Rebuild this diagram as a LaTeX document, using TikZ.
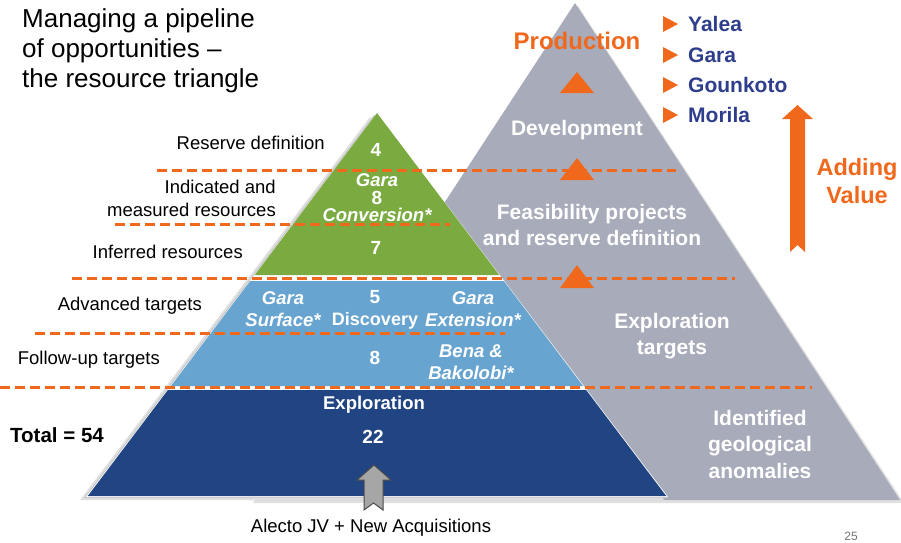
\documentclass[tikz,border=0pt]{standalone}
\usepackage{fontspec}
\setmainfont{Liberation Sans}
\usepackage{xcolor}
\usetikzlibrary{positioning}
\definecolor{pipeorange}{RGB}{240,104,28}
\definecolor{stagegrey}{RGB}{168,172,186}
\definecolor{bandgreen}{RGB}{122,170,64}
\definecolor{bandlight}{RGB}{104,164,208}
\definecolor{banddark}{RGB}{33,68,130}
\definecolor{mineblue}{RGB}{46,62,140}

\begin{document}
\begin{tikzpicture}[x=1pt,y=-1pt,
  sidelabel/.style={font=\fontsize{18.5}{23}\selectfont,align=right,anchor=east},
  bandnum/.style={font=\bfseries\fontsize{19}{22}\selectfont,text=white,align=center},
  bandname/.style={font=\bfseries\itshape\fontsize{18.5}{21.5}\selectfont,text=white,align=center},
  stagename/.style={font=\bfseries\fontsize{21}{26}\selectfont,text=white,align=center},
  minename/.style={font=\bfseries\fontsize{21}{25}\selectfont,text=mineblue,anchor=west},
  levelline/.style={pipeorange,line width=3pt,dash pattern=on 10pt off 5pt}]
\tikzstyle{every node}+=[inner sep=0pt]
\useasboundingbox (0,0) rectangle (901,542);
% grey triangle behind
\fill [black!12] (578,6) -- (904,503) -- (253,503) -- cycle;
\fill [stagegrey] (575,3) -- (900,500) -- (250,500) -- cycle;
% shadow of the coloured pyramid
\fill [black!12] (370,117) -- (80,500) -- (664,500) -- cycle;
\fill [black!22] (374,115) -- (84,498) -- (666,498) -- cycle;
% coloured bands
\fill [white] (377,113) -- (668,497) -- (86,497) -- cycle;
\fill [bandgreen] (377,113) -- (499.3,275) -- (254.7,275) -- cycle;
\fill [bandlight] (250.2,281) -- (503.8,281) -- (583.1,386) -- (170.9,386) -- cycle;
\fill [banddark] (167.9,390) -- (586.1,390) -- (666.2,496) -- (87.8,496) -- cycle;
% level lines
\draw [levelline] (157,170) -- (676,170);
\draw [levelline] (115,224) -- (450,224);
\draw [levelline] (72,278) -- (735,278);
\draw [levelline] (35,333) -- (505,333);
\draw [levelline] (0,387) -- (812,387);
% orange steps
\fill [pipeorange] (560,93) -- (594,93) -- (577,72);
\fill [pipeorange] (560,180) -- (594,180) -- (577,158);
\fill [pipeorange] (560,288) -- (594,288) -- (577,265);
% bullets
\fill [pipeorange] (663,16) -- (678,24) -- (663,32);
\fill [pipeorange] (663,47) -- (678,55) -- (663,63);
\fill [pipeorange] (663,77) -- (678,85) -- (663,93);
\fill [pipeorange] (663,107) -- (678,115) -- (663,123);
% adding value arrow
\fill [pipeorange] (790,252) -- (790,119) -- (782,119) -- (797.5,105) -- (813,119) -- (805,119) -- (805,252) -- (797.5,245) -- cycle;
% new acquisitions arrow
\draw [black!70,fill=black!35,line width=1pt] (364,510) -- (364,480) -- (357,480) -- (374,465) -- (391,480) -- (383,480) -- (383,510) -- (373.5,503) -- cycle;
% title
\draw (22,8) node [anchor=north west,align=left,font=\fontsize{26}{30}\selectfont] (title) {Managing a pipeline\\of opportunities --\\the resource triangle};
% side labels
\draw (325,143) node [sidelabel] (reserve) {Reserve definition};
\draw (276,198) node [sidelabel] (indicated) {Indicated and\\measured resources};
\draw (243,252) node [sidelabel] (inferred) {Inferred resources};
\draw (202,306) node [sidelabel] (advanced) {Advanced targets};
\draw (160,360) node [sidelabel] (followup) {Follow-up targets};
\draw (10,435) node [anchor=west,font=\bfseries\fontsize{20.5}{24}\selectfont] (total) {Total = 54};
\draw (371,528) node [font=\fontsize{18.5}{22}\selectfont] (alecto) {Alecto JV + New Acquisitions};
% band texts
\draw (376,150) node [bandnum] (n4) {4};
\draw (377,180) node [bandname] (garaA) {Gara};
\draw (377,198) node [bandnum] (n8a) {8};
\draw (377,215) node [bandname] (conversion) {Conversion*};
\draw (376,248) node [bandnum] (n7) {7};
\draw (283,309) node [bandname] (surface) {Gara\\Surface*};
\draw (375,297) node [bandnum] (n5) {5};
\draw (375,321) node [bandnum,font=\bfseries\fontsize{18}{22}\selectfont] (discovery) {Discovery};
\draw (473,309) node [bandname] (extension) {Gara\\Extension*};
\draw (375,358) node [bandnum] (n8b) {8};
\draw (471,362) node [bandname] (bena) {Bena \&\\Bakolobi*};
\draw (374,405) node [bandnum,font=\bfseries\fontsize{18.5}{22}\selectfont] (exploration) {Exploration};
\draw (373,437) node [bandnum] (n22) {22};
% grey triangle texts
\draw (577,130) node [stagename] (development) {Development};
\draw (592,225) node [stagename] (feasibility) {Feasibility projects\\and reserve definition};
\draw (672,336) node [stagename] (targets) {Exploration\\targets};
\draw (760,444) node [stagename,font=\bfseries\fontsize{21}{26.5}\selectfont] (anomalies) {Identified\\geological\\anomalies};
% right column
\draw (577,41) node [font=\bfseries\fontsize{24}{28}\selectfont,text=pipeorange] (production) {Production};
\draw (688,24) node [minename] (yalea) {Yalea};
\draw (688,55) node [minename] (gara) {Gara};
\draw (688,85) node [minename] (gounkoto) {Gounkoto};
\draw (688,115) node [minename] (morila) {Morila};
\draw (857,181) node [font=\bfseries\fontsize{23.5}{28}\selectfont,text=pipeorange,align=center] (adding) {Adding\\Value};
\draw (851,536) node [font=\fontsize{12}{14}\selectfont,text=black!55] (page) {25};
\end{tikzpicture}
\end{document}
